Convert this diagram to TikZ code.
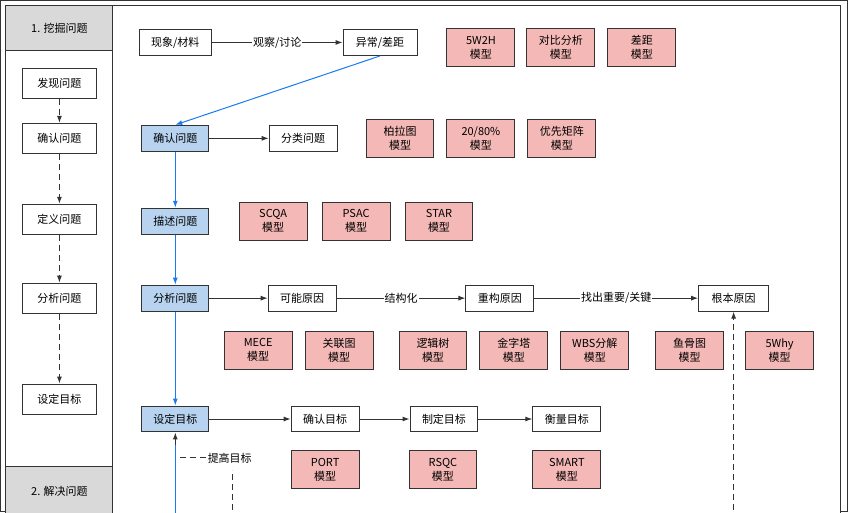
\documentclass[tikz,border=0pt]{standalone}
\usepackage{fontspec}
\setmainfont{Noto Sans CJK SC}
\usetikzlibrary{arrows.meta}
\definecolor{modelred}{HTML}{F4B9B6}
\definecolor{stepblue}{HTML}{B7D3F0}
\definecolor{linkblue}{HTML}{1A7BF0}
\definecolor{headgray}{HTML}{D9D9D9}
\begin{document}
\begin{tikzpicture}[
    x=1pt, y=-1pt,
    font=\fontsize{11}{13}\selectfont,
    every path/.style={line width=1pt, draw=black!80},
    plainbox/.style={draw=black!80, fill=white, minimum height=26pt, inner sep=0pt},
    stepbox/.style={plainbox, fill=stepblue, minimum width=67pt},
    modelbox/.style={plainbox, fill=modelred, minimum width=68pt, minimum height=38pt, align=center, font=\fontsize{11}{14}\selectfont},
    lanebox/.style={plainbox, minimum width=74pt, minimum height=30pt},
    flow/.style={-{Latex[length=7pt,width=5pt]}},
    blueflow/.style={flow, draw=linkblue},
    dashline/.style={dash pattern=on 6pt off 4pt},
    ]
    \useasboundingbox (0,0) rectangle (848,512);

    % frames
    \draw[fill=white] (112,5) rectangle (841,520);
    \draw[fill=white] (5,5) rectangle (112,520);
    \node[plainbox, fill=headgray, minimum width=107pt, minimum height=45pt, anchor=north west] (head1) at (5,5) {1. 挖掘问题};
    \node[plainbox, fill=headgray, minimum width=107pt, minimum height=50pt, anchor=north west] (head2) at (5,466) {2. 解决问题};

    % left lane
    \node[lanebox] (l1) at (59,83) {发现问题};
    \node[lanebox] (l2) at (59,138) {确认问题};
    \node[lanebox] (l3) at (59,219) {定义问题};
    \node[lanebox] (l4) at (59,298) {分析问题};
    \node[lanebox] (l5) at (59,399) {设定目标};
    \foreach \a/\b in {l1/l2,l2/l3,l3/l4,l4/l5}
        \draw[flow, dashline] (\a) -- (\b);

    % row 1
    \node[plainbox, minimum width=72pt] (phen) at (175,42) {现象/材料};
    \node[plainbox, minimum width=74pt] (gap) at (380,42) {异常/差距};
    \draw[flow] (phen) -- node[fill=white, inner sep=1pt] {观察/讨论} (gap);
    \node[modelbox] (m5w) at (481,47) {5W2H\\模型};
    \node[modelbox] (mcmp) at (561,47) {对比分析\\模型};
    \node[modelbox] (mgap) at (642,47) {差距\\模型};

    % row 2
    \node[stepbox] (confirm) at (175,138) {确认问题};
    \node[plainbox, minimum width=68pt] (classify) at (303,138) {分类问题};
    \draw[flow] (confirm) -- (classify);
    \node[modelbox] (mpareto) at (400,138) {柏拉图\\模型};
    \node[modelbox] (m2080) at (481,138) {20/80\%\\模型};
    \node[modelbox] (mprio) at (562,138) {优先矩阵\\模型};
    \draw[blueflow] (gap.south) -- (confirm.north);

    % row 3
    \node[stepbox] (describe) at (175,221) {描述问题};
    \node[modelbox] (mscqa) at (273,221) {SCQA\\模型};
    \node[modelbox] (mpsac) at (356,221) {PSAC\\模型};
    \node[modelbox] (mstar) at (439,221) {STAR\\模型};

    % row 4
    \node[stepbox] (analyse) at (175,298) {分析问题};
    \node[plainbox, minimum width=68pt] (cause1) at (302,298) {可能原因};
    \node[plainbox, minimum width=68pt] (cause2) at (500,298) {重构原因};
    \node[plainbox, minimum width=70pt] (cause3) at (734,298) {根本原因};
    \draw[flow] (analyse) -- (cause1);
    \draw[flow] (cause1) -- node[fill=white, inner sep=1pt] {结构化} (cause2);
    \draw[flow] (cause2) -- node[fill=white, inner sep=1pt] {找出重要/关键} (cause3);
    \node[modelbox] (mmece) at (258,350) {MECE\\模型};
    \node[modelbox] (mrel) at (339,350) {关联图\\模型};
    \node[modelbox] (mtree) at (433,350) {逻辑树\\模型};
    \node[modelbox] (mpyr) at (514,350) {金字塔\\模型};
    \node[modelbox] (mwbs) at (595,350) {WBS分解\\模型};
    \node[modelbox] (mfish) at (690,350) {鱼骨图\\模型};
    \node[modelbox] (m5why) at (780,350) {5Why\\模型};

    % row 5
    \node[stepbox] (target) at (175,419) {设定目标};
    \node[plainbox, minimum width=68pt] (goal1) at (325,419) {确认目标};
    \node[plainbox, minimum width=68pt] (goal2) at (444,419) {制定目标};
    \node[plainbox, minimum width=68pt] (goal3) at (567,419) {衡量目标};
    \draw[flow] (target) -- (goal1);
    \draw[flow] (goal1) -- (goal2);
    \draw[flow] (goal2) -- (goal3);
    \node[modelbox] (mport) at (325,470) {PORT\\模型};
    \node[modelbox] (mrsqc) at (443,470) {RSQC\\模型};
    \node[modelbox] (msmart) at (567,470) {SMART\\模型};

    \foreach \a/\b in {confirm/describe,describe/analyse,analyse/target}
        \draw[blueflow] (\a) -- (\b);

    % feedback
    \coordinate (up) at (175,520);
    \draw[draw=linkblue] (up) -- (175,440);
    \draw[flow] (175,445) -- (target.south);
    \node[fill=white, inner sep=1pt, anchor=west] (raise) at (206,458) {提高目标};
    \draw[dashline] (raise.west) -- (178,458);
    \coordinate (raisefoot) at (232,520);
    \draw[dashline] (raisefoot) -- (232,470);
    \coordinate (rootfoot) at (734,520);
    \draw[flow, dashline] (rootfoot) -- (cause3.south);
\end{tikzpicture}
\end{document}
